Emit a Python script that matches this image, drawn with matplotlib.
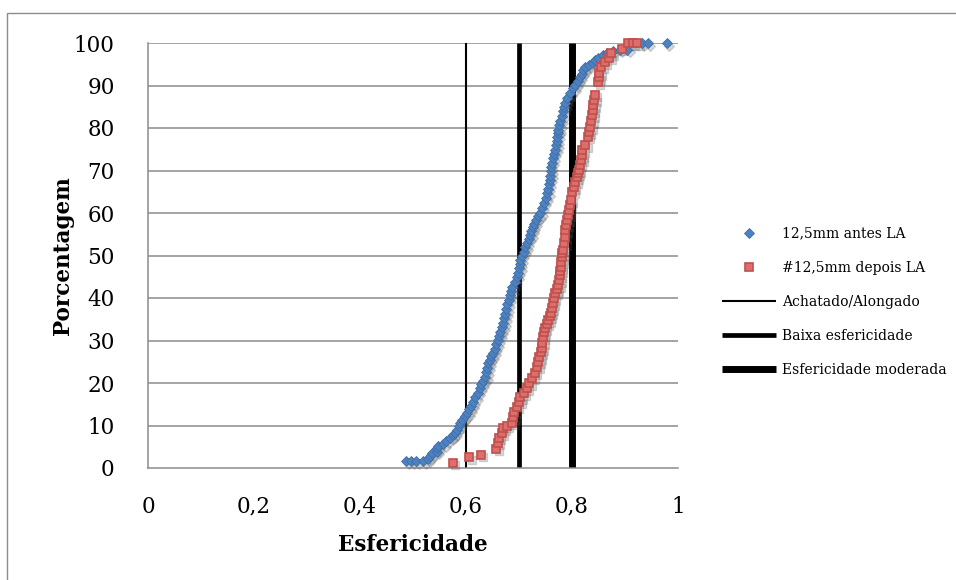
import matplotlib
matplotlib.use("Agg")
import matplotlib.pyplot as plt
import matplotlib.transforms as mtransforms
from matplotlib.patches import Rectangle

plt.rcParams['font.family'] = ['DejaVu Serif']

# Sphericity (x) vs cumulative percentage (y) for each sample
antes_pts = [
    (0.487, 1.6), (0.497, 1.6), (0.506, 1.6), (0.519, 1.6), (0.528, 2.1), (0.532, 2.8),
    (0.536, 3.5), (0.545, 3.8), (0.546, 4.6), (0.547, 5.2), (0.557, 5.6), (0.563, 6.4),
    (0.570, 7.1), (0.575, 7.7), (0.579, 8.2), (0.583, 9.0), (0.586, 9.8), (0.589, 10.6),
    (0.593, 11.4), (0.598, 12.2), (0.602, 12.9), (0.606, 13.8), (0.610, 14.7), (0.613, 15.5),
    (0.617, 16.6), (0.622, 17.7), (0.626, 18.8), (0.629, 19.7), (0.633, 20.5), (0.636, 21.4),
    (0.638, 22.5), (0.640, 23.6), (0.642, 24.7), (0.645, 25.5), (0.648, 26.3), (0.651, 27.1),
    (0.654, 28.1), (0.657, 29.1), (0.660, 30.1), (0.663, 31.1), (0.665, 32.1), (0.668, 33.1),
    (0.670, 34.1), (0.672, 35.2), (0.674, 36.3), (0.676, 37.4), (0.678, 38.5), (0.681, 39.6),
    (0.683, 40.6), (0.685, 41.6), (0.687, 42.6), (0.692, 43.8), (0.696, 45.0), (0.698, 46.0),
    (0.700, 47.0), (0.701, 47.9), (0.702, 48.9), (0.705, 49.9), (0.709, 50.9), (0.712, 51.9),
    (0.715, 52.9), (0.718, 53.9), (0.721, 54.8), (0.723, 55.8), (0.726, 56.7), (0.729, 57.5),
    (0.732, 58.4), (0.736, 59.2), (0.740, 60.0), (0.743, 61.2), (0.747, 62.4), (0.750, 63.5),
    (0.753, 64.7), (0.754, 65.7), (0.756, 66.8), (0.758, 67.8), (0.759, 68.8), (0.760, 69.8),
    (0.760, 70.8), (0.762, 71.8), (0.764, 72.9), (0.766, 73.9), (0.768, 74.9), (0.770, 75.9),
    (0.771, 76.9), (0.772, 77.9), (0.773, 78.9), (0.774, 79.5), (0.776, 80.6), (0.778, 81.7),
    (0.781, 82.8), (0.783, 83.9), (0.785, 85.0), (0.787, 86.0), (0.791, 87.1), (0.796, 88.2),
    (0.802, 89.3), (0.806, 90.2), (0.811, 91.1), (0.815, 92.0), (0.818, 92.8), (0.821, 93.6),
    (0.825, 94.4), (0.832, 94.8), (0.840, 95.3), (0.844, 95.9), (0.849, 96.5), (0.858, 97.2),
    (0.866, 97.6), (0.877, 98.2), (0.890, 98.4), (0.904, 98.4), (0.932, 100.0), (0.943, 100.0),
    (0.979, 100.0),
]

depois_pts = [
    (0.575, 1.2), (0.606, 2.5), (0.628, 3.1), (0.657, 4.5), (0.660, 5.9), (0.662, 7.1),
    (0.667, 8.2), (0.670, 9.4), (0.677, 9.9), (0.687, 10.6), (0.689, 12.0), (0.691, 13.2),
    (0.696, 14.4), (0.700, 15.6), (0.702, 16.7), (0.709, 17.6), (0.715, 18.8), (0.719, 20.0),
    (0.725, 21.2), (0.730, 22.4), (0.734, 23.8), (0.736, 25.0), (0.738, 26.1), (0.741, 27.2),
    (0.743, 28.2), (0.744, 29.5), (0.745, 30.8), (0.747, 31.9), (0.749, 32.9), (0.752, 33.9),
    (0.755, 34.8), (0.758, 35.7), (0.760, 36.5), (0.762, 37.6), (0.764, 38.8), (0.766, 40.0),
    (0.768, 41.2), (0.771, 42.1), (0.774, 43.0), (0.776, 44.2), (0.777, 45.4), (0.778, 46.4),
    (0.779, 47.3), (0.780, 48.5), (0.781, 49.6), (0.782, 50.5), (0.783, 51.3), (0.785, 52.9),
    (0.786, 54.4), (0.787, 56.0), (0.789, 57.2), (0.791, 58.4), (0.793, 59.6), (0.794, 60.7),
    (0.796, 61.9), (0.798, 63.0), (0.800, 65.0), (0.803, 66.1), (0.806, 67.3), (0.809, 68.4),
    (0.811, 69.4), (0.813, 70.1), (0.815, 71.3), (0.817, 72.5), (0.818, 73.6), (0.819, 74.8),
    (0.825, 76.0), (0.830, 77.9), (0.832, 79.0), (0.834, 80.2), (0.836, 81.6), (0.838, 83.0),
    (0.839, 84.2), (0.840, 85.4), (0.842, 86.6), (0.843, 87.8), (0.849, 90.8), (0.850, 91.9),
    (0.851, 92.9), (0.855, 94.4), (0.862, 95.5), (0.870, 96.5), (0.874, 97.6), (0.894, 98.6),
    (0.906, 100.0), (0.915, 100.0), (0.923, 100.0),
]

# Classification limits (vertical reference lines)
limites = [0.6, 0.7, 0.8]
limite_labels = ["Achatado/Alongado", "Baixa esfericidade", "Esfericidade moderada"]
limite_widths = [1.5, 3.4, 5.0]

series_labels = ["12,5mm antes LA", "#12,5mm depois LA"]
x_ticks = [0, 0.2, 0.4, 0.6, 0.8, 1.0]
x_ticklabels = ["0", "0,2", "0,4", "0,6", "0,8", "1"]
y_ticks = list(range(0, 101, 10))

fig = plt.figure(figsize=(9.56, 5.8), dpi=100)

# outer chart frame
fig.patches.append(Rectangle((7 / 956, -0.2), 1.2, 1.2 - 13 / 580,
                             transform=fig.transFigure, fill=False,
                             edgecolor='#8c8c8c', linewidth=1.0))

ax = fig.add_axes([148 / 956, 1 - 468 / 580, 530 / 956, 425 / 580])
ax.set_xlim(0, 1)
ax.set_ylim(0, 100)

for yv in y_ticks[1:]:
    ax.axhline(yv, color='#8c8c8c', linewidth=1.1, zorder=1)

for xv, lab, lw in zip(limites, limite_labels, limite_widths):
    ax.axvline(xv, color='black', linewidth=lw, label=lab, zorder=2,
               solid_capstyle='butt')

xa = [p[0] for p in antes_pts]
ya = [p[1] for p in antes_pts]
xd = [p[0] for p in depois_pts]
yd = [p[1] for p in depois_pts]

shadow = mtransforms.offset_copy(ax.transData, fig=fig, x=2.5, y=-2.5, units='dots')
ax.plot(xa, ya, linestyle='none', marker='D', markersize=5.3, color='#555555',
        alpha=0.22, transform=shadow, clip_on=False, zorder=3)
ax.plot(xd, yd, linestyle='none', marker='s', markersize=5.8, color='#555555',
        alpha=0.22, transform=shadow, clip_on=False, zorder=3)

h1, = ax.plot(xa, ya, linestyle='none', marker='D', markersize=5.3,
              markerfacecolor='#4f81bd', markeredgecolor='#3d6fae',
              markeredgewidth=0.6, clip_on=False, zorder=4, label=series_labels[0])
h2, = ax.plot(xd, yd, linestyle='none', marker='s', markersize=5.8,
              markerfacecolor='#de6e6b', markeredgecolor='#c0504d',
              markeredgewidth=1.2, clip_on=False, zorder=5, label=series_labels[1])

for s in ['top', 'right']:
    ax.spines[s].set_visible(False)
for s in ['left', 'bottom']:
    ax.spines[s].set_color('#8c8c8c')
    ax.spines[s].set_linewidth(1.1)

ax.set_xticks(x_ticks)
ax.set_xticklabels(x_ticklabels)
ax.set_yticks(y_ticks)
ax.tick_params(axis='both', length=0, labelsize=15.5)
ax.tick_params(axis='x', pad=20)
ax.tick_params(axis='y', pad=24)

ax.set_xlabel("Esfericidade", fontsize=15.5, fontweight='bold', labelpad=12)
ax.set_ylabel("Porcentagem", fontsize=15.5, fontweight='bold', labelpad=0)

handles, labels = ax.get_legend_handles_labels()
order = [series_labels[0], series_labels[1]] + limite_labels
hmap = dict(zip(labels, handles))
leg = fig.legend([hmap[l] for l in order], order, loc='center left',
                 bbox_to_anchor=(722 / 956, 1 - 302 / 580), frameon=False,
                 fontsize=10, handlelength=3.9, handletextpad=0.4,
                 labelspacing=1.45, borderaxespad=0, borderpad=0)

fig.savefig("out.png", dpi=100)
